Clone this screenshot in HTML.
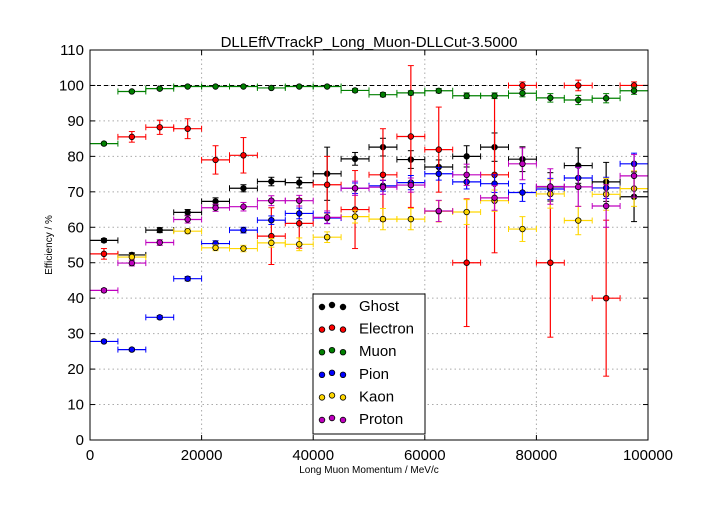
<!DOCTYPE html>
<html><head><meta charset="utf-8"><style>
body{margin:0;background:#fff;font-family:"Liberation Sans",sans-serif}
</style></head><body>
<svg id="chart" width="720" height="504" xmlns="http://www.w3.org/2000/svg" font-family="Liberation Sans, sans-serif">
<rect width="720" height="504" fill="#fff"/>
<text x="369" y="47" font-size="15" text-anchor="middle">DLLEffVTrackP_Long_Muon-DLLCut-3.5000</text>
<text x="369" y="473" font-size="10" text-anchor="middle">Long Muon Momentum / MeV/c</text>
<text transform="translate(52,245) rotate(-90)" font-size="10" text-anchor="middle">Efficiency / %</text>
<g id="grid"></g><g id="marks"></g><g id="axes"></g>
<g id="legend"></g>
</svg>
<script>
const binCenters=[2500,7500,12500,17500,22500,27500,32500,37500,42500,47500,52500,57500,62500,67500,72500,77500,82500,87500,92500,97500];
const binHalfWidth=2500;
const xTicks=[0,20000,40000,60000,80000,100000];
const yTicks=[0,10,20,30,40,50,60,70,80,90,100,110];
const seriesNames=["Ghost","Electron","Muon","Pion","Kaon","Proton"];
const seriesColors=["#000000","#ff0000","#008000","#0000ff","#ffd700","#bf00bf"];
const ghostVals=[56.3,52.2,59.2,64.2,67.3,71,72.9,72.6,75.1,79.3,82.6,79.1,77,80,82.6,79.2,71.4,77.4,72.8,68.6];
const ghostErr=[0.5,0.6,0.7,0.8,1,1,1.2,1.5,7.5,1.8,2.5,2.5,2,3,4,3.5,4,5,5.5,7];
const electronVals=[52.5,85.5,88.2,87.8,79,80.3,57.5,61.1,72,65,74.8,85.6,81.9,50,74.8,100,50,100,40,100];
const electronErr=[1.5,1.5,2,2.8,4,5,8,7,8,11,13,20,12,18,22,1,21,1.5,22,1];
const muonVals=[83.6,98.3,99.1,99.7,99.7,99.7,99.3,99.7,99.7,98.6,97.4,97.9,98.5,97.1,97.1,97.8,96.5,95.9,96.4,98.5];
const muonErr=[0.4,0.3,0.3,0.2,0.2,0.2,0.3,0.3,0.3,0.5,0.6,0.6,0.6,0.8,0.8,1,1.2,1.3,1.3,1];
const pionVals=[27.8,25.5,34.6,45.5,55.4,59.2,62,63.9,62.6,71,71.7,72.6,75.1,72.8,72.3,69.8,70.8,73.9,71.1,77.9];
const pionErr=[0.4,0.4,0.5,0.6,0.8,0.8,1.2,1.5,1.5,1.5,1.5,2,1.8,2,2.5,2.5,3,3,3,3];
const kaonVals=[null,51.6,null,58.9,54.2,54,55.6,55.2,57.2,63,62.3,62.3,64.5,64.3,67.5,59.5,69.4,61.9,69.3,70.9];
const kaonErr=[0,0.6,0,0.7,0.8,0.9,1.2,1.8,1.5,1.8,3,3,3,3.5,3,3.5,4,4,4.5,5];
const protonVals=[42.2,49.9,55.7,62.2,65.5,65.8,67.5,67.5,62.8,71,71.3,71.9,64.6,74.8,68.3,77.9,71.5,71.4,66,74.5];
const protonErr=[0.5,0.8,0.8,1,1,1.2,1.4,1.5,1.8,2,2,2,3,3,3.5,4.5,5,5.5,6,6];
const allVals=[ghostVals,electronVals,muonVals,pionVals,kaonVals,protonVals];
const allErr=[ghostErr,electronErr,muonErr,pionErr,kaonErr,protonErr];

const L=90,R=648,T=50,B=440,NS="http://www.w3.org/2000/svg";
const xs=v=>L+(v/100000)*(R-L);
const ys=v=>B-(v/110)*(B-T);
function mk(tag,attrs,parent){const e=document.createElementNS(NS,tag);for(const k in attrs)e.setAttribute(k,attrs[k]);parent.appendChild(e);return e;}
const grid=document.getElementById('grid'),marks=document.getElementById('marks'),axes=document.getElementById('axes'),legend=document.getElementById('legend');
xTicks.forEach(t=>{
 const g=mk('line',{x1:xs(t),x2:xs(t),y1:T,y2:B,stroke:'#aaa','stroke-dasharray':'1.5,3'},grid);
 
 mk('line',{x1:xs(t),x2:xs(t),y1:B,y2:B-5,stroke:'#000'},axes);
 mk('line',{x1:xs(t),x2:xs(t),y1:T,y2:T+5,stroke:'#000'},axes);
 const tx=mk('text',{x:xs(t),y:B+20,'font-size':15,'text-anchor':'middle'},axes);tx.textContent=t;
 
});
yTicks.forEach(t=>{
 const g=mk('line',{x1:L,x2:R,y1:ys(t),y2:ys(t),stroke:'#aaa','stroke-dasharray':'1.5,3'},grid);
 
 mk('line',{x1:L,x2:L+5,y1:ys(t),y2:ys(t),stroke:'#000'},axes);
 mk('line',{x1:R,x2:R-5,y1:ys(t),y2:ys(t),stroke:'#000'},axes);
 const tx=mk('text',{x:L-6,y:ys(t)+5,'font-size':15,'text-anchor':'end'},axes);tx.textContent=t;
 
});
const ref=mk('line',{x1:L,x2:R,y1:ys(100),y2:ys(100),stroke:'#000','stroke-dasharray':'4,3'},grid);

const frame=mk('rect',{x:L,y:T,width:R-L,height:B-T,fill:'none',stroke:'#000'},axes);


allVals.forEach((vals,si)=>{
 const c=seriesColors[si];
 const g=mk('g',{},marks);
 
 
 vals.forEach((v,i)=>{
  if(v==null)return;
  const x=binCenters[i],e=allErr[si][i];
  mk('line',{x1:xs(x-binHalfWidth),x2:xs(x+binHalfWidth),y1:ys(v),y2:ys(v),stroke:c,'stroke-width':1.2},g);
  mk('line',{x1:xs(x),x2:xs(x),y1:ys(Math.min(v+e,110)),y2:ys(Math.max(v-e,0)),stroke:c,'stroke-width':1.2},g);
  [v+e,v-e].forEach(yy=>mk('line',{x1:xs(x)-3,x2:xs(x)+3,y1:ys(yy),y2:ys(yy),stroke:c},g));
  [x-binHalfWidth,x+binHalfWidth].forEach(xx=>mk('line',{x1:xs(xx),x2:xs(xx),y1:ys(v)-3,y2:ys(v)+3,stroke:c},g));
  const p=mk('circle',{cx:xs(x),cy:ys(v),r:2.8,fill:c,stroke:'#000','stroke-width':0.8},g);
  
  
 });
});
mk('rect',{x:313,y:294,width:112,height:140,fill:'#fff',stroke:'#000'},legend);
seriesNames.forEach((n,i)=>{
 const y=306+i*22.6;
 const e=mk('g',{},legend);
 
 
 [[322,y+1],[332,y-1],[343,y+1]].forEach(([cx,cy])=>mk('circle',{cx:cx,cy:cy,r:2.8,fill:seriesColors[i],stroke:'#000','stroke-width':0.8},e));
 const t=mk('text',{x:359,y:y+5,'font-size':15},e);t.textContent=n;
});
</script>
</body></html>
